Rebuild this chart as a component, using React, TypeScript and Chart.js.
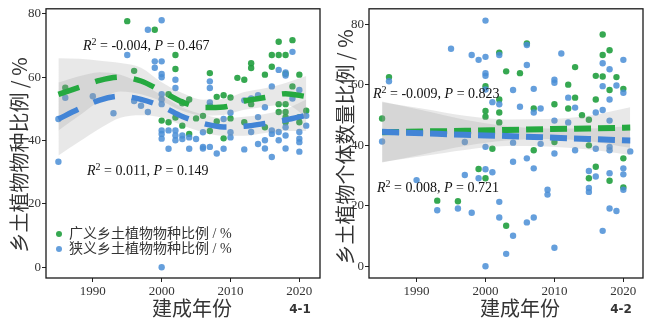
import React, { useEffect, useRef } from "react";
import { Chart, registerables } from "chart.js";
Chart.register(...registerables);

// ---------- tick labels & texts ----------
const xTickYears = [1990, 2000, 2010, 2020];
const yTickValues = [0, 20, 40, 60, 80];
const legendLabels = ["广义乡土植物物种比例 / %", "狭义乡土植物物种比例 / %"];
const yTitle41 = "乡土植物物种比例 / %";
const yTitle42 = "乡土植物个体数量比例 / %";
const xTitleText = "建成年份";
const panelTags = ["4-1", "4-2"];
const stats41 = [["-0.004", "0.467"], ["0.011", "0.149"]];
const stats42 = [["-0.009", "0.823"], ["0.008", "0.721"]];

// ---------- panel 4-1 : species proportion ----------
const broadSpecies41 = [
  [1986, 56.7], [1995, 77.7], [1996, 62], [1999, 75], [2002, 67], [2002, 62.6], [2001, 54.6],
  [2000, 46.3], [2001, 45.8], [2002, 47.3], [2003, 44.7], [2003, 51.8], [2004, 42.1], [2004, 53],
  [2005, 47], [2007, 61.3], [2007, 50.9], [2007, 43], [2006, 47.8], [2008, 53.8], [2008, 46],
  [2009, 54.3], [2009, 40.7], [2010, 53.6], [2010, 47], [2011, 59.8], [2012, 59.2], [2012, 45.8],
  [2013, 64.4], [2013, 62.9], [2013, 51.5], [2015, 60.8], [2015, 44.2], [2016, 67], [2016, 63.3],
  [2017, 71.2], [2017, 67], [2017, 51.5], [2017, 49], [2018, 67], [2018, 61.1], [2018, 51.5],
  [2018, 49], [2018, 47.4], [2018, 45.8], [2019, 71.7], [2019, 57.1], [2020, 60.8], [2020, 47.4],
  [2020, 45.8], [2021, 49.4],
];
const narrowSpecies41 = [
  [1985, 46.8], [1985, 33.3], [1986, 53.5], [1990, 54], [1993, 48.6], [1995, 67], [1996, 52.5],
  [1997, 51], [1998, 75], [1998, 49], [1999, 65], [1999, 63], [2000, 78], [2000, 65], [2000, 61],
  [2000, 60], [2000, 54.6], [2000, 53], [2000, 51.5], [2000, 43.2], [2000, 42.1], [2000, 40.6],
  [2000, 0], [2001, 43.2], [2001, 37.4], [2002, 59.2], [2002, 56.6], [2002, 43.2], [2002, 41.6],
  [2002, 40.1], [2003, 41.6], [2003, 40.5], [2004, 41], [2004, 37.4], [2005, 40.5], [2006, 42.6],
  [2006, 38], [2006, 37.5], [2007, 58.7], [2007, 56.6], [2007, 52], [2007, 38], [2008, 35.9],
  [2009, 46.8], [2009, 37.4], [2010, 48.8], [2010, 42.6], [2010, 41], [2012, 52.7], [2012, 37.2],
  [2013, 53.3], [2013, 42.7], [2014, 54.3], [2014, 47.4], [2014, 38.9], [2015, 50.5], [2015, 40.1],
  [2015, 37.5], [2016, 57.1], [2016, 43.2], [2016, 42.1], [2016, 34.8], [2017, 62.3], [2017, 42.7],
  [2017, 40.1], [2018, 61.5], [2018, 60.5], [2018, 44.2], [2018, 41.6], [2018, 37.5], [2019, 68],
  [2019, 53.3], [2020, 56], [2020, 42.7], [2020, 40.6], [2020, 39.5], [2020, 36.5], [2021, 44.7],
  [2021, 47.8],
];
const fitYears41 = [1985, 1988, 1991, 1994, 1997, 2000, 2003, 2006, 2009, 2012, 2015, 2018, 2021];
const broadFit41 = [54.6, 56.8, 59.0, 60.0, 58.8, 55.6, 52.2, 50.4, 50.6, 52.5, 53.6, 54.8, 53.9];
const broadHi41 = [66.0, 65.8, 65.2, 64.5, 63.0, 58.4, 55.0, 52.9, 53.1, 55.3, 56.5, 58.2, 60.4];
const broadLo41 = [43.2, 47.8, 52.6, 55.5, 54.6, 52.4, 49.4, 47.9, 48.1, 49.7, 50.7, 51.4, 47.4];
const narrowFit41 = [46.8, 50.0, 52.8, 54.0, 53.0, 50.8, 47.6, 45.4, 44.3, 44.5, 45.4, 46.5, 48.0];
const narrowHi41 = [58.3, 60.3, 61.6, 60.8, 58.0, 54.3, 50.4, 48.2, 47.1, 47.5, 48.4, 50.0, 53.0];
const narrowLo41 = [35.3, 39.6, 43.8, 47.2, 48.0, 47.3, 44.8, 42.6, 41.5, 41.5, 42.4, 43.0, 43.0];

// ---------- panel 4-2 : individual proportion ----------
const broadIndiv42 = [
  [1985, 48.9], [1986, 62.6], [1993, 21.7], [1996, 21.5], [1999, 32.2], [2000, 29.1], [2000, 59.6],
  [2000, 51.4], [2000, 49.5], [2001, 38.9], [2002, 70.7], [2002, 55.2], [2002, 50.9], [2002, 47.6],
  [2003, 64.5], [2003, 13.4], [2005, 63.9], [2006, 73.7], [2007, 52.2], [2007, 38.4], [2010, 53.6],
  [2010, 41.1], [2012, 60.1], [2012, 52.2], [2013, 65.9], [2013, 55.8], [2014, 50], [2015, 48.5],
  [2015, 40], [2015, 29.1], [2016, 63], [2016, 55.2], [2016, 32.9], [2017, 76.7], [2017, 69.9],
  [2017, 62.8], [2018, 71.5], [2018, 58.3], [2018, 28.3], [2019, 62.6], [2020, 58.7], [2020, 35.7],
  [2020, 26.1],
];
const narrowIndiv42 = [
  [1985, 41.3], [1986, 61.2], [1990, 28.5], [1993, 18.5], [1995, 72], [1996, 19.1], [1997, 30.2],
  [1997, 41.1], [1998, 69.9], [1998, 17.7], [1999, 68.3], [1999, 29.1], [2000, 81.3], [2000, 69.3],
  [2000, 63.9], [2000, 63], [2000, 58.5], [2000, 39.5], [2000, 32.1], [2000, 0], [2001, 54.3],
  [2001, 31.1], [2002, 69.9], [2002, 53.6], [2002, 21.3], [2002, 16.1], [2003, 4.1], [2004, 58.3],
  [2004, 40.9], [2004, 34.6], [2004, 10.1], [2005, 52.8], [2006, 73.2], [2006, 66.6], [2006, 35.7],
  [2006, 14.5], [2007, 58.7], [2007, 50.9], [2007, 32.4], [2007, 16.1], [2008, 52.2], [2008, 40.5],
  [2009, 25.3], [2009, 23.7], [2010, 61.7], [2010, 60.7], [2010, 48.2], [2010, 37.3], [2010, 6.1],
  [2011, 70.4], [2012, 55.8], [2012, 47.6], [2013, 52.5], [2013, 38.4], [2015, 31.5], [2015, 25.9],
  [2015, 24.6], [2016, 50.9], [2016, 38.9], [2016, 29.7], [2017, 67.2], [2017, 59.6], [2017, 51.7],
  [2017, 11.7], [2018, 65.2], [2018, 55.2], [2018, 48.2], [2018, 39.5], [2018, 38.4], [2018, 30.8],
  [2018, 19.1], [2019, 59.8], [2019, 18.3], [2020, 68.3], [2020, 57.4], [2020, 32.4], [2020, 30.4],
  [2020, 25.3], [2021, 38],
];
const fitYears42 = [1985, 1991, 1997, 2003, 2009, 2015, 2021];
const broadFit42 = [44.3, 44.6, 44.8, 45.1, 45.4, 45.6, 45.9];
const broadHi42 = [54.3, 52.1, 49.8, 48.6, 48.7, 49.8, 52.6];
const broadLo42 = [34.3, 37.1, 39.8, 41.6, 42.1, 41.4, 39.2];
const narrowFit42 = [44.5, 44.0, 43.5, 43.1, 42.6, 42.1, 41.6];
const narrowHi42 = [54.5, 51.5, 48.5, 46.4, 45.6, 45.6, 46.4];
const narrowLo42 = [34.5, 36.5, 38.5, 39.8, 39.6, 38.6, 36.8];

// ---------- styles ----------
const GREEN_PT = "rgba(32,158,62,0.9)";
const BLUE_PT = "rgba(74,142,214,0.85)";
const GREEN_LN = "#25a940";
const BLUE_LN = "#4284d6";
const BAND = "rgba(150,150,150,0.22)";
const SERIF = "'Liberation Serif', 'Noto Sans CJK SC'";
const CJK = "'Noto Sans CJK SC', 'Liberation Serif'";

const zip = (xs: number[], ys: number[]) => xs.map((x, i) => ({ x, y: ys[i] }));
const pts = (arr: number[][]) => arr.map(([x, y]) => ({ x, y }));

function drawStat(ctx: CanvasRenderingContext2D, x: number, y: number, r2: string, p: string) {
  ctx.save();
  ctx.fillStyle = "#111";
  ctx.textBaseline = "alphabetic";
  ctx.textAlign = "left";
  const parts: [string, string, number][] = [
    ["R", "italic 14px 'Liberation Serif'", 0],
    ["2", "10px 'Liberation Serif'", -5],
    [" = " + r2 + ", ", "14px 'Liberation Serif'", 0],
    ["P", "italic 14px 'Liberation Serif'", 0],
    [" = " + p, "14px 'Liberation Serif'", 0],
  ];
  let cx = x;
  for (const [t, f, dy] of parts) {
    ctx.font = f;
    ctx.fillText(t, cx, y + dy);
    cx += ctx.measureText(t).width;
  }
  ctx.restore();
}

type Panel = {
  width: number;
  yAxisWidth: number;
  padRight: number;
  xMin: number; xMax: number; yMin: number; yMax: number;
  broadPts: number[][]; narrowPts: number[][];
  years: number[];
  bFit: number[]; bHi: number[]; bLo: number[];
  nFit: number[]; nHi: number[]; nLo: number[];
  dash: number[]; lw: number;
  yTitle: string; yTitleX: number; yTitleY: number;
  xTitleX: number; tag: string; tagX: number;
  stats: string[][]; statPos: number[][];
  legend: boolean;
};

function makeConfig(p: Panel): any {
  const lineDs = (data: any, color: string) => ({
    data, showLine: true, borderColor: color, borderWidth: p.lw, borderDash: p.dash,
    borderCapStyle: "butt", pointRadius: 0, fill: false, cubicInterpolationMode: "monotone", order: 0,
  });
  const edgeDs = (data: any, fill: any) => ({
    data, showLine: true, borderColor: "transparent", borderWidth: 0, pointRadius: 0,
    backgroundColor: BAND, fill, cubicInterpolationMode: "monotone", order: 1,
  });
  const ptDs = (data: any, color: string) => ({
    data, showLine: false, pointRadius: 3.2, pointBackgroundColor: color, pointBorderWidth: 0,
    borderColor: color, order: 2,
  });
  const datasets = [
    lineDs(zip(p.years, p.nFit), BLUE_LN),
    lineDs(zip(p.years, p.bFit), GREEN_LN),
    edgeDs(zip(p.years, p.bHi), "+1"),
    edgeDs(zip(p.years, p.bLo), false),
    edgeDs(zip(p.years, p.nHi), "+1"),
    edgeDs(zip(p.years, p.nLo), false),
    ptDs(pts(p.narrowPts), BLUE_PT),
    ptDs(pts(p.broadPts), GREEN_PT),
  ];
  const overlay = {
    id: "overlay",
    afterDatasetsDraw(chart: any) {
      const { ctx, chartArea: a } = chart;
      ctx.save();
      ctx.strokeStyle = "#1a1a1a";
      ctx.lineWidth = 1.3;
      ctx.strokeRect(a.left, a.top, a.right - a.left, a.bottom - a.top);
      ctx.restore();
    },
    afterDraw(chart: any) {
      const ctx: CanvasRenderingContext2D = chart.ctx;
      ctx.save();
      p.stats.forEach((s, i) => drawStat(ctx, p.statPos[i][0], p.statPos[i][1], s[0], s[1]));
      ctx.fillStyle = "#333";
      ctx.font = `20px ${CJK}`;
      ctx.textAlign = "center";
      ctx.textBaseline = "middle";
      ctx.save();
      ctx.translate(p.yTitleX, p.yTitleY);
      ctx.rotate(-Math.PI / 2);
      ctx.fillText(p.yTitle, 0, 0);
      ctx.restore();
      ctx.fillText(xTitleText, p.xTitleX, 308);
      ctx.font = "bold 12px 'DejaVu Sans'";
      ctx.fillText(p.tag, p.tagX, 310);
      if (p.legend) {
        const rows = [[GREEN_PT, 234], [BLUE_PT, 249]] as [string, number][];
        rows.forEach(([c, y], i) => {
          ctx.beginPath();
          ctx.fillStyle = c;
          ctx.arc(59, y, 3, 0, Math.PI * 2);
          ctx.fill();
          ctx.fillStyle = "#333";
          ctx.font = `14px ${SERIF}`;
          ctx.textAlign = "left";
          ctx.fillText(legendLabels[i], 69, y);
        });
      }
      ctx.restore();
    },
  };
  const tickFont = { family: "'Liberation Serif'", size: 13 };
  return {
    type: "scatter",
    data: { datasets },
    plugins: [overlay],
    options: {
      animation: false,
      responsive: false,
      devicePixelRatio: 1,
      events: [],
      layout: { padding: { left: 0, right: p.padRight, top: 5, bottom: 0 } },
      plugins: { legend: { display: false }, tooltip: { enabled: false } },
      scales: {
        x: {
          type: "linear", min: p.xMin, max: p.xMax,
          afterBuildTicks: (s: any) => { s.ticks = xTickYears.map((v) => ({ value: v })); },
          afterFit: (s: any) => { s.height = 44; },
          grid: { display: true, drawOnChartArea: false, drawTicks: true, tickLength: 4, color: "#222" },
          border: { display: false },
          ticks: {
            font: tickFont, color: "#333", padding: 2, maxRotation: 0, autoSkip: false,
            callback: (v: any) => String(v),
          },
        },
        y: {
          type: "linear", min: p.yMin, max: p.yMax,
          afterBuildTicks: (s: any) => { s.ticks = yTickValues.map((v) => ({ value: v })); },
          afterFit: (s: any) => { s.width = p.yAxisWidth; },
          grid: { display: true, drawOnChartArea: false, drawTicks: true, tickLength: 4, color: "#222" },
          border: { display: false },
          ticks: { font: tickFont, color: "#333", padding: 1, autoSkip: false, callback: (v: any) => String(v) },
        },
      },
    },
  };
}

const panel41: Panel = {
  width: 324, yAxisWidth: 46, padRight: 3,
  xMin: 1983.2, xMax: 2023.0, yMin: -3.4, yMax: 81.6,
  broadPts: broadSpecies41, narrowPts: narrowSpecies41,
  years: fitYears41,
  bFit: broadFit41, bHi: broadHi41, bLo: broadLo41,
  nFit: narrowFit41, nHi: narrowHi41, nLo: narrowLo41,
  dash: [22, 17], lw: 5.5,
  yTitle: yTitle41, yTitleX: 19, yTitleY: 155,
  xTitleX: 192, tag: panelTags[0], tagX: 300,
  stats: stats41, statPos: [[83, 50], [87, 175]],
  legend: true,
};
const panel42: Panel = {
  width: 324, yAxisWidth: 45, padRight: 5,
  xMin: 1983.1, xMax: 2022.85, yMin: -3.9, yMax: 85.2,
  broadPts: broadIndiv42, narrowPts: narrowIndiv42,
  years: fitYears42,
  bFit: broadFit42, bHi: broadHi42, bLo: broadLo42,
  nFit: narrowFit42, nHi: narrowHi42, nLo: narrowLo42,
  dash: [17, 7], lw: 6,
  yTitle: yTitle42, yTitleX: 21, yTitleY: 147,
  xTitleX: 196, tag: panelTags[1], tagX: 297,
  stats: stats42, statPos: [[49, 98], [53, 192]],
  legend: false,
};

function PanelChart({ panel, left }: { panel: Panel; left: number }) {
  const ref = useRef<HTMLCanvasElement>(null);
  useEffect(() => {
    if (!ref.current) return;
    const chart = new Chart(ref.current, makeConfig(panel));
    return () => chart.destroy();
  }, [panel]);
  return (
    <canvas
      ref={ref}
      width={panel.width}
      height={322}
      style={{ position: "absolute", left, top: 0, width: panel.width, height: 322 }}
    />
  );
}

export default function App() {
  return (
    <div style={{ position: "fixed", left: 0, top: 0, width: 648, height: 322, background: "#fff" }}>
      <PanelChart panel={panel41} left={0} />
      <PanelChart panel={panel42} left={324} />
    </div>
  );
}
